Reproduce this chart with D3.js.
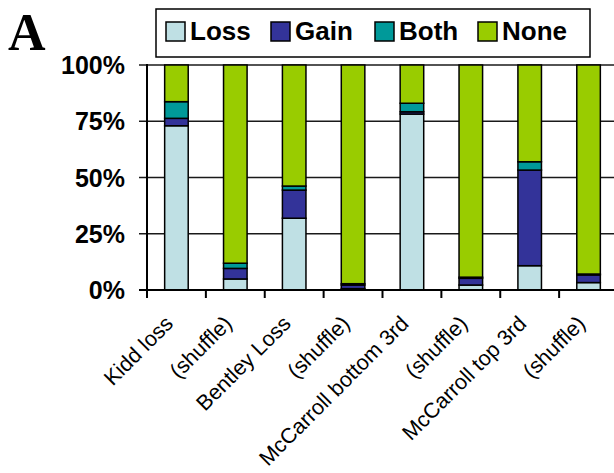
<!DOCTYPE html>
<html>
<head>
<meta charset="utf-8">
<script src="https://cdn.jsdelivr.net/npm/d3@7/dist/d3.min.js"></script>
<style>
  body { margin: 0; background: #fff; }
  svg { display: block; }
</style>
</head>
<body>
<div id="chart"></div>
<script>
// data (percent of each bar)
var categories = ["Kidd loss", "(shuffle)", "Bentley Loss", "(shuffle)", "McCarroll bottom 3rd", "(shuffle)", "McCarroll top 3rd", "(shuffle)"];
var seriesNames = ["Loss", "Gain", "Both", "None"];
var lossValues = [73.0, 4.9, 31.9, 0.6, 78.2, 2.2, 10.8, 3.3];
var gainValues = [3.3, 4.7, 12.5, 1.6, 1.0, 3.0, 42.5, 3.4];
var bothValues = [7.4, 2.3, 1.8, 0.6, 3.8, 0.5, 3.7, 0.4];
var noneValues = [16.3, 88.1, 53.8, 97.2, 17.0, 94.3, 43.0, 92.9];
var yTicks = [0, 25, 50, 75, 100];

var colors = ["#bfe0e4", "#333399", "#009999", "#99cc00"];

var width = 614, height = 473;
var svg = d3.select("#chart").append("svg")
  .attr("width", width)
  .attr("height", height);

var plot = { left: 147, right: 618, top: 65, bottom: 290 };

var x = d3.scaleBand()
  .domain(d3.range(categories.length))
  .range([plot.left, plot.right])
  .paddingInner(0.6)
  .paddingOuter(0.3);

var y = d3.scaleLinear()
  .domain([0, 100])
  .range([plot.bottom, plot.top]);

var rows = categories.map(function(c, i) {
  return { i: i, name: c, Loss: lossValues[i], Gain: gainValues[i], Both: bothValues[i], None: noneValues[i] };
});
var stacked = d3.stack().keys(seriesNames)(rows);

// gridlines (they also make the little ticks left of the axis)
svg.append("g")
  .selectAll("line")
  .data(yTicks.filter(function(d) { return d > 0; }))
  .enter().append("line")
  .attr("x1", plot.left - 8)
  .attr("x2", width)
  .attr("y1", function(d) { return y(d); })
  .attr("y2", function(d) { return y(d); })
  .attr("stroke", "#1a1a1a")
  .attr("stroke-width", 1.7);

// bars
svg.append("g")
  .selectAll("g")
  .data(stacked)
  .enter().append("g")
  .attr("fill", function(d, k) { return colors[k]; })
  .selectAll("rect")
  .data(function(d) { return d; })
  .enter().append("rect")
  .attr("x", function(d) { return x(d.data.i); })
  .attr("width", x.bandwidth())
  .attr("y", function(d) { return y(d[1]); })
  .attr("height", function(d) { return y(d[0]) - y(d[1]); })
  .attr("stroke", "#000")
  .attr("stroke-width", 1.5);

// y axis
svg.append("line")
  .attr("x1", plot.left).attr("x2", plot.left)
  .attr("y1", plot.top - 1).attr("y2", plot.bottom)
  .attr("stroke", "#000").attr("stroke-width", 2);

svg.append("g")
  .selectAll("text")
  .data(yTicks)
  .enter().append("text")
  .attr("x", 125)
  .attr("y", function(d) { return y(d) + 9; })
  .attr("text-anchor", "end")
  .attr("font-family", "Liberation Sans, Arial, sans-serif")
  .attr("font-weight", "bold")
  .attr("font-size", 25)
  .text(function(d) { return d + "%"; });

// x axis
svg.append("line")
  .attr("x1", plot.left - 8).attr("x2", width)
  .attr("y1", plot.bottom).attr("y2", plot.bottom)
  .attr("stroke", "#000").attr("stroke-width", 2);

var step = x.step();
svg.append("g")
  .selectAll("line")
  .data(d3.range(categories.length + 1))
  .enter().append("line")
  .attr("x1", function(d) { return plot.left + d * step; })
  .attr("x2", function(d) { return plot.left + d * step; })
  .attr("y1", plot.bottom)
  .attr("y2", plot.bottom + 8)
  .attr("stroke", "#000").attr("stroke-width", 2);

svg.append("g")
  .selectAll("text")
  .data(categories)
  .enter().append("text")
  .attr("text-anchor", "end")
  .attr("dy", "0.72em")
  .attr("font-family", "Liberation Sans, Arial, sans-serif")
  .attr("font-size", 21.5)
  .attr("transform", function(d, i) {
    var cx = x(i) + x.bandwidth() / 2 - 13;
    return "translate(" + cx + "," + (plot.bottom + 24) + ") rotate(-45)";
  })
  .text(function(d) { return d; });

// panel letter
svg.append("text")
  .attr("x", 8)
  .attr("y", 50)
  .attr("font-family", "Liberation Serif, Times New Roman, serif")
  .attr("font-weight", "bold")
  .attr("font-size", 52)
  .text("A");

// legend
var legend = svg.append("g");
legend.append("rect")
  .attr("x", 156).attr("y", 9)
  .attr("width", 434).attr("height", 48)
  .attr("fill", "#fff")
  .attr("stroke", "#000").attr("stroke-width", 1.5);

var legendX = [166, 271, 375, 478];
var item = legend.selectAll(".item")
  .data(seriesNames)
  .enter().append("g")
  .attr("class", "item")
  .attr("transform", function(d, k) { return "translate(" + legendX[k] + ",22)"; });

item.append("rect")
  .attr("width", 19).attr("height", 19)
  .attr("fill", function(d, k) { return colors[k]; })
  .attr("stroke", "#000").attr("stroke-width", 1.5);

item.append("text")
  .attr("x", 24)
  .attr("y", 18)
  .attr("font-family", "Liberation Sans, Arial, sans-serif")
  .attr("font-weight", "bold")
  .attr("font-size", 26)
  .text(function(d) { return d; });
</script>
</body>
</html>
